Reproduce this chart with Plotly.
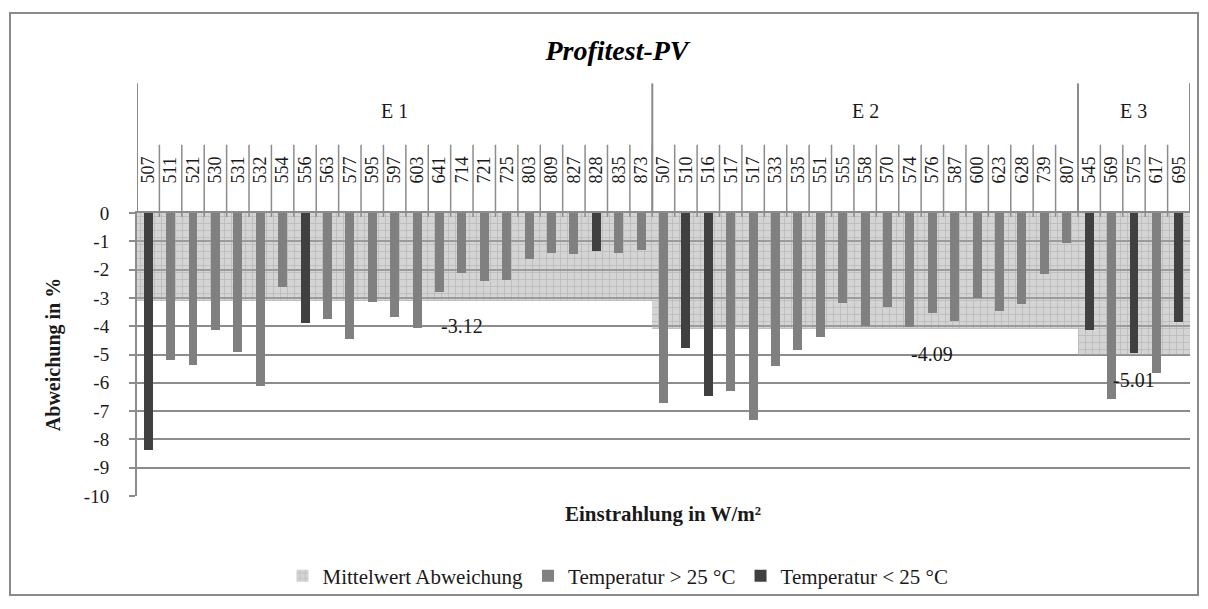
import plotly.graph_objects as go

# ---------------- data ----------------
groups = ["E 1", "E 2", "E 3"]

e1_irr = [507, 511, 521, 530, 531, 532, 554, 556, 563, 577, 595, 597, 603, 641,
          714, 721, 725, 803, 809, 827, 828, 835, 873]
e1_dev = [-8.37, -5.20, -5.37, -4.13, -4.92, -6.12, -2.62, -3.90, -3.75, -4.45,
          -3.16, -3.66, -4.08, -2.80, -2.12, -2.41, -2.38, -1.62, -1.41, -1.45,
          -1.36, -1.43, -1.32]
e1_temp = ["<", ">", ">", ">", ">", ">", ">", "<", ">", ">", ">", ">", ">", ">",
           ">", ">", ">", ">", ">", ">", "<", ">", ">"]

e2_irr = [507, 510, 516, 517, 517, 533, 535, 551, 555, 558, 570, 574, 576, 587,
          600, 623, 628, 739, 807]
e2_dev = [-6.70, -4.78, -6.46, -6.30, -7.30, -5.40, -4.85, -4.37, -3.18, -4.01,
          -3.32, -4.02, -3.53, -3.81, -3.00, -3.46, -3.21, -2.14, -1.07]
e2_temp = [">", "<", "<", ">", ">", ">", ">", ">", ">", ">", ">", ">", ">", ">",
           ">", ">", ">", ">", ">"]

e3_irr = [545, 569, 575, 617, 695]
e3_dev = [-4.14, -6.58, -4.96, -5.66, -3.85]
e3_temp = ["<", ">", "<", ">", "<"]

group_means = [-3.12, -4.09, -5.01]
y_ticks = [0, -1, -2, -3, -4, -5, -6, -7, -8, -9, -10]

# ---------------- assembly ----------------
irr_groups = [e1_irr, e2_irr, e3_irr]
labels = e1_irr + e2_irr + e3_irr
dev = e1_dev + e2_dev + e3_dev
temp = e1_temp + e2_temp + e3_temp
n = len(labels)
idx = list(range(n))
hot = [d if t == ">" else None for d, t in zip(dev, temp)]
cold = [d if t == "<" else None for d, t in zip(dev, temp)]
mean_y = [m for m, g in zip(group_means, irr_groups) for _ in g]

W, H = 1208, 609
L, R, T, B = 137, 18, 213, 110
PW, PH = W - L - R, H - T - B


def px(x):
    return (x - L) / PW


def py(y):
    return (H - B - y) / PH


FONT = "Liberation Serif"
GRID = "#8c8c8c"
TXT = "#1a1a1a"

fig = go.Figure()
fig.add_trace(go.Bar(
    x=idx, y=mean_y, width=1.0, name="Mittelwert Abweichung",
    marker=dict(color="rgba(190,190,190,0.6)", line_width=0,
                pattern=dict(shape="+", size=7, solidity=0.2,
                             fgcolor="#999999", bgcolor="rgba(170,170,170,0.5)")),
))
fig.add_trace(go.Bar(x=idx, y=hot, width=0.4, name="Temperatur > 25 °C",
                     marker=dict(color="#808080", line_width=0)))
fig.add_trace(go.Bar(x=idx, y=cold, width=0.4, name="Temperatur < 25 °C",
                     marker=dict(color="#404040", line_width=0)))

shapes = []
# chart border
shapes.append(dict(type="rect", xref="paper", yref="paper",
                   x0=px(10), x1=px(1198), y0=py(599), y1=py(11),
                   line=dict(color="#8a8a8a", width=2), fillcolor="rgba(0,0,0,0)"))
# category dividers
for i in range(1, n):
    shapes.append(dict(type="line", xref="x", yref="paper", x0=i - 0.5, x1=i - 0.5,
                       y0=py(217), y1=py(144), line=dict(color=GRID, width=1.5)))
# group dividers
bounds = [-0.5]
acc = -0.5
for g in irr_groups:
    acc += len(g)
    bounds.append(acc)
for b in bounds:
    shapes.append(dict(type="line", xref="x", yref="paper", x0=b, x1=b,
                       y0=py(213), y1=py(82), line=dict(color=GRID, width=2)))

annotations = []
start = 0
for name, g in zip(groups, irr_groups):
    annotations.append(dict(x=start + (len(g) - 1) / 2, xref="x", y=py(110), yref="paper",
                            yanchor="middle", text=name, showarrow=False,
                            font=dict(family=FONT, size=20, color=TXT)))
    start += len(g)

# mean value labels
label_cat = [14, 35, 44]
for m, c in zip(group_means, label_cat):
    annotations.append(dict(x=c, xref="x", y=m, yref="y", yshift=-25,
                            yanchor="middle", text=f"{m:.2f}", showarrow=False,
                            font=dict(family=FONT, size=20, color=TXT)))

# x-axis title (at bottom)
annotations.append(dict(x=px(663), xref="paper", y=py(517), yref="paper",
                        xanchor="center", yanchor="middle",
                        text="<b>Einstrahlung in W/m²</b>", showarrow=False,
                        font=dict(family=FONT, size=21, color=TXT)))

fig.update_layout(
    width=W, height=H,
    margin=dict(l=L, r=R, t=T, b=B, pad=0),
    paper_bgcolor="white", plot_bgcolor="white",
    barmode="overlay", bargap=0,
    font=dict(family=FONT, color=TXT),
    title=dict(text="Profitest-PV", x=617 / W, xanchor="center",
               y=1 - 50 / H, yanchor="middle",
               font=dict(family=FONT, size=28, weight="bold", style="italic",
                         color="#000000")),
    xaxis=dict(range=[-0.5, n - 0.5], side="top", tickmode="array",
               tickvals=idx, ticktext=[str(v) for v in labels], tickangle=-90,
               tickfont=dict(family=FONT, size=18, color=TXT),
               showline=True, linecolor=GRID, linewidth=2, showgrid=False,
               ticks="", ticklabelstandoff=24, zeroline=False),
    yaxis=dict(range=[-10, 0], tickmode="array", tickvals=y_ticks,
               ticktext=[str(v) for v in y_ticks],
               tickfont=dict(family=FONT, size=19, color=TXT),
               showgrid=True, gridcolor=GRID, gridwidth=1.5, zeroline=False,
               showline=True, linecolor=GRID, linewidth=2,
               ticks="outside", ticklen=6, tickcolor=GRID, tickwidth=1.5,
               ticklabelstandoff=16,
               title=dict(text="<b>Abweichung in %</b>", standoff=18,
                          font=dict(family=FONT, size=20, color=TXT))),
    legend=dict(orientation="h", x=px(618), xanchor="center", y=py(580),
                yanchor="middle", font=dict(family=FONT, size=21, color=TXT),
                itemwidth=30, bgcolor="rgba(0,0,0,0)"),
    shapes=shapes,
    annotations=annotations,
)

fig.write_html("out.html")
